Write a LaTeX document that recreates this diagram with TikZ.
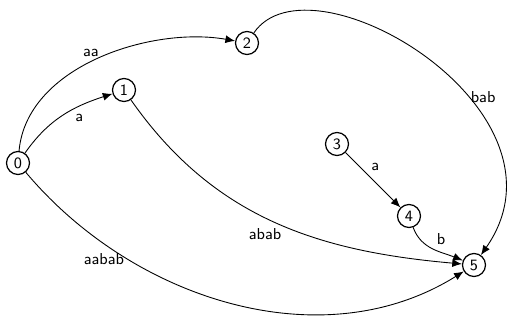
\documentclass[tikz,border=0pt]{standalone}
\usepackage{amsmath}
\usepackage{tikz}
\usetikzlibrary{arrows.meta}

\begin{document}
\begin{tikzpicture}[x=0.02cm, y=0.02cm, font=\sffamily\small,
    state/.style={draw, circle, line width=0.7pt, inner sep=0pt, minimum size=0.46cm},
    edge/.style={line width=0.5pt, -{Latex[length=5.5pt,width=4.5pt]}},
    lab/.style={inner sep=2pt}]
  \useasboundingbox (0,0) rectangle (509,322);
  \node[state] (0) at (18,159) {0};
  \node[state] (1) at (124,232) {1};
  \node[state] (2) at (247,279) {2};
  \node[state] (3) at (337,178) {3};
  \node[state] (4) at (409,106) {4};
  \node[state] (5) at (474,57) {5};
  \draw[edge] (0) to[out=55, in=198] node[lab, pos=0.6, below right] {a} (1);
  \draw[edge] (0) to[out=85, in=170, looseness=0.9] node[lab, pos=0.47, above, inner sep=3pt] {aa} (2);
  \draw[edge] (1) to[out=-55, in=175] node[lab, pos=0.53, below left, inner sep=1pt] {abab} (5);
  \draw[edge] (0) to[out=-50, in=212, looseness=0.95] node[lab, pos=0.27, left] {aabab} (5);
  % long loop from 2 over to the right
  \draw[edge] (2) .. controls (310,372) and (582,212) .. node[lab, pos=0.62, right] {bab} (5);
  \draw[edge] (3) to node[lab, pos=0.4, above right] {a} (4);
  \draw[edge] (4) to[out=-70, in=158] node[lab, midway, above right] {b} (5);
\end{tikzpicture}
\end{document}
